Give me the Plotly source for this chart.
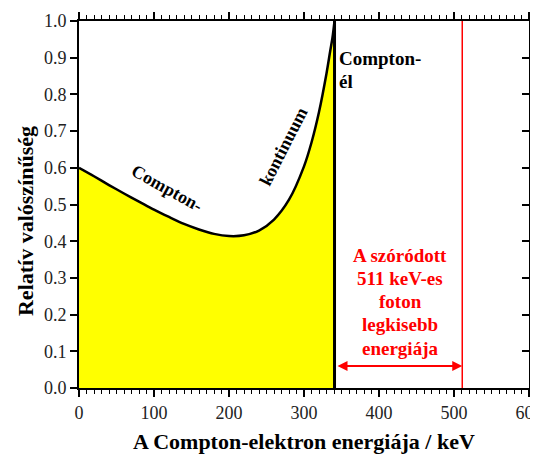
import plotly.graph_objects as go

# Compton continuum for 511 keV photons
energy_keV = [0, 20, 40, 60, 80, 100, 120, 140, 160, 180, 200, 220, 240, 260,
              280, 300, 310, 320, 330, 335, 338, 340.7]
rel_prob = [0.600, 0.577, 0.553, 0.530, 0.508, 0.486, 0.466, 0.447, 0.432, 0.420,
            0.414, 0.416, 0.429, 0.459, 0.513, 0.604, 0.669, 0.752, 0.857, 0.919,
            0.955, 1.000]
compton_edge = 340.7
photon_energy = 511
arrow_y = 0.06

x_ticks = [0, 100, 200, 300, 400, 500, 600]
y_ticks = [0.0, 0.1, 0.2, 0.3, 0.4, 0.5, 0.6, 0.7, 0.8, 0.9, 1.0]

red_lines = ["A szóródott", "511 keV-es", "foton", "legkisebb", "energiája"]
red_line_y = [0.362, 0.298, 0.235, 0.172, 0.109]

serif = "Liberation Serif, Times New Roman, serif"

fig = go.Figure()
fig.add_trace(go.Scatter(x=energy_keV, y=rel_prob, mode="lines",
                         line=dict(color="black", width=2.5, shape="spline", smoothing=0.8),
                         fill="tozeroy", fillcolor="#ffff00", hoverinfo="skip"))
fig.add_trace(go.Scatter(x=[compton_edge, compton_edge], y=[0, 1.0], mode="lines",
                         line=dict(color="black", width=3), hoverinfo="skip"))
fig.add_trace(go.Scatter(x=[photon_energy, photon_energy], y=[0, 1.0], mode="lines",
                         line=dict(color="#ff0000", width=1.5), hoverinfo="skip"))
# invisible trace on the right axis
fig.add_trace(go.Scatter(x=[0], y=[0], yaxis="y2", mode="markers",
                         marker=dict(opacity=0), hoverinfo="skip"))

fig.add_annotation(x=photon_energy, y=arrow_y, ax=compton_edge + 2, ay=arrow_y,
                   xref="x", yref="y", axref="x", ayref="y", text="",
                   showarrow=True, arrowhead=2, arrowside="end+start",
                   arrowsize=1, arrowwidth=2, arrowcolor="#ff0000")
for txt, yy in zip(red_lines, red_line_y):
    fig.add_annotation(x=428, y=yy, xref="x", yref="y", showarrow=False,
                       text=txt, align="center",
                       font=dict(family=serif, size=19, color="#ff0000", weight="bold"))
fig.add_annotation(x=344, y=0.898, xref="x", yref="y", showarrow=False,
                   xanchor="left", yanchor="middle", text="Compton-",
                   font=dict(family=serif, size=19, color="black", weight="bold"))
fig.add_annotation(x=344, y=0.835, xref="x", yref="y", showarrow=False,
                   xanchor="left", yanchor="middle", text="él",
                   font=dict(family=serif, size=19, color="black", weight="bold"))
fig.add_annotation(x=117, y=0.544, xref="x", yref="y", showarrow=False,
                   text="Compton-", textangle=29,
                   font=dict(family=serif, size=18, color="black", weight="bold"))
fig.add_annotation(x=272, y=0.657, xref="x", yref="y", showarrow=False,
                   text="kontinuum", textangle=-63,
                   font=dict(family=serif, size=18, color="black", weight="bold"))
# axis titles
fig.add_annotation(x=0.5, y=-0.147, xref="paper", yref="paper", showarrow=False,
                   yanchor="middle", text="A Compton-elektron energiája / keV",
                   font=dict(family=serif, size=22, color="black", weight="bold"))
fig.add_annotation(x=-0.12, y=0.455, xref="paper", yref="paper", showarrow=False,
                   textangle=-90, xanchor="center", yanchor="middle",
                   text="Relatív valószínűség",
                   font=dict(family=serif, size=22, color="black", weight="bold"))

# the page places the figure 8 px from the top-left corner
fig.update_layout(
    width=530, height=447,
    margin=dict(l=71, r=9, t=13, b=67, autoexpand=False),
    paper_bgcolor="white", plot_bgcolor="white",
    showlegend=False,
    font=dict(family=serif, color="#222222"),
    xaxis=dict(range=[0, 600], tickvals=x_ticks, showgrid=False, zeroline=False,
               automargin=False, ticklabeloverflow="allow",
               showline=True, linecolor="black", linewidth=2, mirror="ticks",
               ticks="outside", ticklen=7, tickwidth=1.5, tickcolor="black",
               minor=dict(dtick=10, ticks="outside", ticklen=4, tickwidth=1,
                          tickcolor="black", showgrid=False),
               tickfont=dict(family=serif, size=18, color="#222222")),
    yaxis=dict(range=[0, 1.0], tickvals=y_ticks, tickformat=".1f",
               showgrid=False, zeroline=False, automargin=False,
               showline=True, linecolor="black", linewidth=2,
               ticks="outside", ticklen=7, tickwidth=1.5, tickcolor="black",
               tickfont=dict(family=serif, size=18, color="#222222")),
    yaxis2=dict(range=[0, 1.0], tickvals=y_ticks, overlaying="y", side="right",
                anchor="x", automargin=False,
                showgrid=False, zeroline=False, showticklabels=False,
                showline=True, linecolor="black", linewidth=2,
                ticks="inside", ticklen=7, tickwidth=1.5, tickcolor="black"),
)

fig.write_html("out.html")
